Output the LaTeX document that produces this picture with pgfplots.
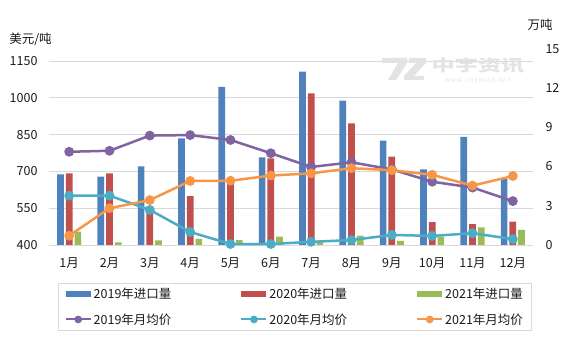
\documentclass[border=0pt]{standalone}
\usepackage{fontspec}
\setmainfont{Noto Sans CJK SC}
\usepackage{pgfplots}
\pgfplotsset{compat=1.18}
\definecolor{c19}{HTML}{4F81BD}
\definecolor{c20}{HTML}{C0504D}
\definecolor{c21}{HTML}{9BBB59}
\definecolor{l19}{HTML}{8064A2}
\definecolor{l20}{HTML}{4BACC6}
\definecolor{l21}{HTML}{F79646}
\definecolor{gridc}{HTML}{D9D9D9}
\definecolor{txt}{HTML}{1A1A1A}
\pgfplotsset{
  barleg/.style={legend image code/.code={\fill[##1] (0pt,-3pt) rectangle (25pt,3pt);}},
  lineleg/.style={legend image code/.code={\draw[mark repeat=2,mark phase=2,##1, line width=2pt, mark size=2.8pt] plot coordinates {(0pt,0pt) (12.5pt,0pt) (25pt,0pt)};}},
}
\begin{document}
\begin{tikzpicture}[font=\fontsize{12.5}{15}\selectfont, text=txt]
\path (0pt,0pt) rectangle (568pt,340pt);
% bars on right axis
\begin{axis}[
  set layers,
  at={(49pt,95pt)}, anchor=south west,
  width=484pt, height=196.3pt, scale only axis,
  xmin=0.5, xmax=12.5, ymin=0, ymax=15,
  axis y line*=right, axis x line*=bottom,
  x axis line style={draw=none},
  y axis line style={draw=none},
  xtick=\empty,
  ytick={0,3,...,15},
  major tick length=0pt,
  yticklabel style={anchor=west, xshift=9pt, text=txt},
  /pgf/number format/assume math mode=true,
  ybar, bar width=6.7pt,
]
\addplot[fill=c19, draw=none, bar shift=-8.7pt] coordinates {(1,5.40) (2,5.22) (3,6.00) (4,8.15) (5,12.09) (6,6.70) (7,13.24) (8,11.03) (9,7.97) (10,5.78) (11,8.27) (12,5.05)};
\addplot[fill=c20, draw=none, bar shift=0pt] coordinates {(1,5.48) (2,5.48) (3,2.54) (4,3.74) (5,4.84) (6,6.62) (7,11.59) (8,9.30) (9,6.75) (10,1.75) (11,1.60) (12,1.78)};
\addplot[fill=c21, draw=none, bar shift=8.7pt] coordinates {(1,1.02) (2,0.20) (3,0.36) (4,0.47) (5,0.38) (6,0.64) (7,0.25) (8,0.71) (9,0.31) (10,0.64) (11,1.35) (12,1.15)};
\end{axis}
% lines on left axis
\begin{axis}[
  set layers,
  at={(49pt,95pt)}, anchor=south west,
  width=484pt, height=196.3pt, scale only axis,
  xmin=0.5, xmax=12.5, ymin=400, ymax=1200,
  axis lines*=left,
  x axis line style={draw=gridc, line width=0.8pt},
  y axis line style={draw=none},
  ytick={400,550,...,1150},
  xtick={1,...,12},
  xticklabels={1月,2月,3月,4月,5月,6月,7月,8月,9月,10月,11月,12月},
  major tick length=0pt,
  ymajorgrids, grid style={draw=gridc, line width=0.8pt},
  yticklabel style={anchor=east, xshift=-8pt, text=txt, /pgf/number format/1000 sep={}},
  xticklabel style={yshift=-9pt, text=txt},
  /pgf/number format/assume math mode=true,
  clip=false,
  legend columns=3,
  legend cell align=left,
  legend style={at={(0.508,-0.1936)}, anchor=north, draw=gridc, line width=0.8pt,
    inner xsep=6pt, inner ysep=3pt, row sep=9pt,
    /tikz/every even column/.append style={column sep=67pt},
    font=\fontsize{12.5}{15}\selectfont},
  every axis plot/.append style={line width=2.5pt, mark=*, mark size=3.6pt, mark options={solid}},
  lineleg,
]
\addlegendimage{barleg, fill=c19, draw=none}
\addlegendentry{2019年进口量}
\addlegendimage{barleg, fill=c20, draw=none}
\addlegendentry{2020年进口量}
\addlegendimage{barleg, fill=c21, draw=none}
\addlegendentry{2021年进口量}
\addplot[color=l19, lineleg] coordinates {(1,780) (2,784) (3,846) (4,848) (5,828) (6,774) (7,718) (8,737) (9,708) (10,658) (11,634) (12,579)};
\addlegendentry{2019年月均价}
\addplot[color=l20, lineleg] coordinates {(1,601) (2,601) (3,543) (4,453) (5,404) (6,404) (7,413) (8,420) (9,441) (10,437) (11,448) (12,424)};
\addlegendentry{2020年月均价}
\addplot[color=l21, lineleg] coordinates {(1,438) (2,550) (3,583) (4,661) (5,662) (6,683) (7,692) (8,713) (9,705) (10,686) (11,642) (12,681)};
\addlegendentry{2021年月均价}
\end{axis}
% axis titles
\node at (30.5pt,301pt) {美元/吨};
\node at (540pt,315pt) {万吨};
% watermark
\begin{scope}[gray!22]
\fill (382pt,282pt) -- (407pt,282pt) -- (407pt,277pt) -- (396pt,260pt) -- (388pt,260pt) -- (398pt,277pt) -- (382pt,277pt) -- cycle;
\fill (409pt,282pt) -- (426pt,282pt) -- (426pt,277pt) -- (414pt,264pt) -- (424pt,264pt) -- (424pt,260pt) -- (404pt,260pt) -- (404pt,264pt) -- (416pt,277pt) -- (409pt,277pt) -- cycle;
\node[font=\bfseries\fontsize{16}{16}\selectfont, xscale=1.45, inner sep=0pt] at (478pt,274pt) {中宇资讯};
\node[font=\fontsize{5.5}{6}\selectfont, inner sep=0pt] at (478pt,260pt) {W\,W\,W\,.\,C\,H\,E\,M\,3\,6\,5\,.\,N\,E\,T};
\end{scope}
\end{tikzpicture}
\end{document}
